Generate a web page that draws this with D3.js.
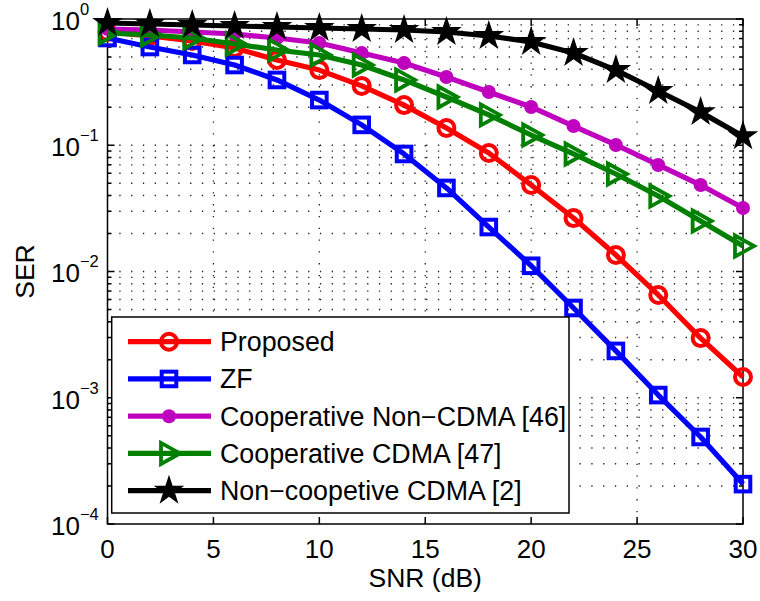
<!DOCTYPE html>
<html><head><meta charset="utf-8">
<script src="https://cdn.jsdelivr.net/npm/d3@7"></script>
<style>body{margin:0;background:#fff}svg{display:block}text{font-family:"Liberation Sans",Arial,sans-serif;fill:#000}</style>
</head><body>
<svg id="c" width="760" height="601"></svg>
<script>
const snr = [0,2,4,6,8,10,12,14,16,18,20,22,24,26,28,30];
const proposed = [0.789,0.733,0.67,0.589,0.473,0.394,0.295,0.208,0.137,0.0868,0.0484,0.0265,0.0135,0.00652,0.00297,0.00146];
const zf = [0.707,0.600,0.519,0.432,0.329,0.228,0.145,0.0853,0.0459,0.0225,0.0111,0.00514,0.00235,0.00105,0.000489,0.000207];
const coopNonCdma = [0.833,0.818,0.789,0.761,0.707,0.645,0.538,0.448,0.347,0.264,0.201,0.142,0.1005,0.0698,0.0484,0.0318];
const coopCdma = [0.775,0.747,0.707,0.634,0.568,0.519,0.432,0.329,0.241,0.174,0.1205,0.0853,0.0592,0.0396,0.0251,0.0159];
const nonCoop = [0.930,0.913,0.896,0.880,0.864,0.849,0.833,0.818,0.789,0.733,0.658,0.538,0.394,0.269,0.183,0.118];
const seriesNames = ["Proposed","ZF","Cooperative Non\u2212CDMA [46]","Cooperative CDMA [47]","Non\u2212coopetive CDMA [2]"];
const xTicks = [0,5,10,15,20,25,30];
const yExp = [0,-1,-2,-3,-4];

const X0=107.5, X1=743, Y0=19, Y1=524;
const svg = d3.select("#c");
const x = d3.scaleLinear().domain([0,30]).range([X0,X1]);
const y = d3.scaleLog().domain([1e-4,1]).range([Y1,Y0]);

const yAll = [];
for (let e=-4; e<0; e++) for (let m=1; m<10; m++) yAll.push(m*Math.pow(10,e));
yAll.push(1);

// grid
const grid = svg.append("g").attr("stroke","#222").attr("stroke-width",1.3).attr("stroke-dasharray","1.3,10.5");
yAll.forEach(v=>{ if(v>1e-4 && v<1) grid.append("line").attr("x1",X0).attr("x2",X1).attr("y1",y(v)).attr("y2",y(v)); });
xTicks.forEach(t=>{ if(t>0 && t<30) grid.append("line").attr("x1",x(t)).attr("x2",x(t)).attr("y1",Y1).attr("y2",Y0); });

// frame and ticks
const ax = svg.append("g").attr("stroke","#000").attr("stroke-width",1.5).attr("fill","none");
ax.append("rect").attr("x",X0).attr("y",Y0).attr("width",X1-X0).attr("height",Y1-Y0);
xTicks.forEach(t=>{
  ax.append("line").attr("x1",x(t)).attr("x2",x(t)).attr("y1",Y1).attr("y2",Y1-7);
  ax.append("line").attr("x1",x(t)).attr("x2",x(t)).attr("y1",Y0).attr("y2",Y0+7);
});
yAll.forEach(v=>{
  const major = Math.abs(Math.log10(v)-Math.round(Math.log10(v)))<1e-9;
  const L = major?7:4;
  ax.append("line").attr("x1",X0).attr("x2",X0+L).attr("y1",y(v)).attr("y2",y(v));
  ax.append("line").attr("x1",X1).attr("x2",X1-L).attr("y1",y(v)).attr("y2",y(v));
});

// tick labels
svg.append("g").selectAll("text").data(xTicks).join("text")
  .attr("x",d=>x(d)).attr("y",557.5).attr("text-anchor","middle").attr("font-size",26).text(d=>d);
const yl = svg.append("g");
yExp.forEach(e=>{
  const t = yl.append("text").attr("y",y(Math.pow(10,e))+10.8).attr("font-size",26);
  t.append("tspan").attr("x",51).text("10");
  t.append("tspan").attr("dy",-15).attr("font-size",16.5).text(e===0?"0":"\u2212"+(-e));
});
svg.append("text").attr("x",(X0+X1)/2).attr("y",586.5).attr("text-anchor","middle").attr("font-size",26.5).text("SNR (dB)");
svg.append("text").attr("transform",`translate(34,${(Y0+Y1)/2}) rotate(-90)`).attr("text-anchor","middle").attr("font-size",26.5).text("SER");

// markers
const starPath = d3.symbol().type(d3.symbolStar).size(290)();
const markers = {
  circle: g=>g.append("circle").attr("r",8).attr("fill","none").attr("stroke-width",4),
  square: g=>g.append("rect").attr("x",-7.3).attr("y",-7.3).attr("width",14.6).attr("height",14.6).attr("fill","none").attr("stroke-width",4),
  dot: (g,c)=>g.append("circle").attr("r",7).attr("fill",c).attr("stroke","none"),
  tri: g=>g.append("path").attr("d","M-8,-10.5L-8,10.5L11,0Z").attr("fill","none").attr("stroke-width",3.8).attr("stroke-linejoin","miter"),
  star: (g,c)=>g.append("path").attr("d",starPath).attr("fill",c).attr("stroke","none")
};
const series = [
  {name:seriesNames[0], vals:proposed, color:"#ff0000", m:"circle"},
  {name:seriesNames[1], vals:zf, color:"#0000ff", m:"square"},
  {name:seriesNames[2], vals:coopNonCdma, color:"#bf00bf", m:"dot"},
  {name:seriesNames[3], vals:coopCdma, color:"#008000", m:"tri"},
  {name:seriesNames[4], vals:nonCoop, color:"#000000", m:"star"}
];
const line = d3.line().x(d=>x(d[0])).y(d=>y(d[1]));
series.forEach(s=>{
  const pts = snr.map((v,i)=>[v,s.vals[i]]);
  const g = svg.append("g");
  g.append("path").attr("d",line(pts)).attr("fill","none").attr("stroke",s.color).attr("stroke-width",5.2).attr("stroke-linejoin","round");
  pts.forEach(p=>{
    const mg = g.append("g").attr("transform",`translate(${x(p[0])},${y(p[1])})`).attr("stroke",s.color);
    markers[s.m](mg,s.color);
  });
});

// legend
const lg = svg.append("g");
lg.append("rect").attr("x",111.7).attr("y",317).attr("width",457.3).attr("height",196).attr("fill","#fff").attr("stroke","#000").attr("stroke-width",1.5);
series.forEach((s,i)=>{
  const yy = 341.7 + i*37.25;
  lg.append("line").attr("x1",128).attr("x2",211).attr("y1",yy).attr("y2",yy).attr("stroke",s.color).attr("stroke-width",5.2);
  const mg = lg.append("g").attr("transform",`translate(169,${yy})`).attr("stroke",s.color);
  markers[s.m](mg,s.color);
  lg.append("text").attr("x",220).attr("y",yy+9.5).attr("font-size",26.8).text(s.name);
});
</script>
</body></html>
